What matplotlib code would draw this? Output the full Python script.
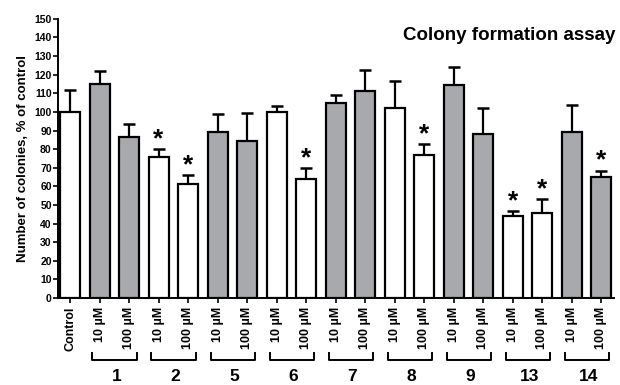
import matplotlib
matplotlib.use("Agg")
import matplotlib.pyplot as plt
import matplotlib.transforms as mtransforms

plt.rcParams['font.family'] = ['Liberation Sans', 'DejaVu Sans']
plt.rcParams['font.weight'] = 'bold'

labels = ["Control"] + ["10 µM", "100 µM"] * 9
groups = ["1", "2", "5", "6", "7", "8", "9", "13", "14"]
values = [100, 115, 86.5, 75.5, 61.5, 89, 84.5, 100, 64,
          105, 111.5, 102, 77, 114.5, 88, 44, 45.5, 89, 65]
err_top = [112, 122, 93.5, 80, 66, 99, 99.5, 103, 70,
           109, 122.5, 116.5, 82.5, 124, 102, 46.5, 53, 103.5, 68.5]
gray = [False, True, True, False, False, True, True, False, False,
        True, True, False, False, True, True, False, False, True, True]
stars = [3, 4, 8, 12, 15, 16, 18]

fig = plt.figure(figsize=(6.2, 3.85), dpi=100)
ax = fig.add_axes([0.0935, 0.226, 0.897, 0.725])

x = list(range(len(values)))
colors = ["#a8a9ad" if g else "white" for g in gray]
errs = [e - v for e, v in zip(err_top, values)]
ax.errorbar(x, values, yerr=[[0] * len(values), errs], fmt='none',
            ecolor='black', elinewidth=1.6, capsize=4, capthick=1.8, zorder=1)
ax.bar(x, values, width=0.68, color=colors, edgecolor='black',
       linewidth=1.6, zorder=2)

for i in stars:
    ax.text(i, err_top[i] + 1.5, "*", ha='center', va='baseline',
            fontsize=19, fontweight='bold')

ax.set_xlim(-0.41, 18.44)
ax.set_ylim(0, 150)
ax.set_yticks(range(0, 151, 10))
ax.set_xticks(x)
ax.set_xticklabels(labels, rotation=90, fontsize=9, fontweight='bold')
ax.tick_params(axis='y', labelsize=7.5, width=1.2, length=3.5, pad=1)
ax.tick_params(axis='x', width=1.2, length=3.5, pad=3)
for lab in ax.get_yticklabels():
    lab.set_fontweight('bold')
ax.spines['top'].set_visible(False)
ax.spines['right'].set_visible(False)
ax.spines['left'].set_linewidth(1.4)
ax.spines['bottom'].set_linewidth(1.4)
ax.set_ylabel("Number of colonies, % of control", fontsize=9.5,
              fontweight='bold', labelpad=4)

trans = mtransforms.blended_transform_factory(ax.transData, ax.transAxes)
for k, g in enumerate(groups):
    a = 1 + 2 * k
    b = a + 1
    x0, x1 = a - 0.24, b + 0.26
    ax.plot([x0, x0, x1, x1], [-0.197, -0.222, -0.222, -0.197],
            transform=trans, color='black', lw=1.4, clip_on=False)
    ax.text((a + b) / 2 + 0.07, -0.28, g, transform=trans, ha='center',
            va='center', fontsize=12.5, fontweight='bold')

fig.text(0.993, 0.908, "Colony formation assay", ha='right', va='center',
         fontsize=13.5, fontweight='bold')

fig.savefig("out.png", dpi=100)
